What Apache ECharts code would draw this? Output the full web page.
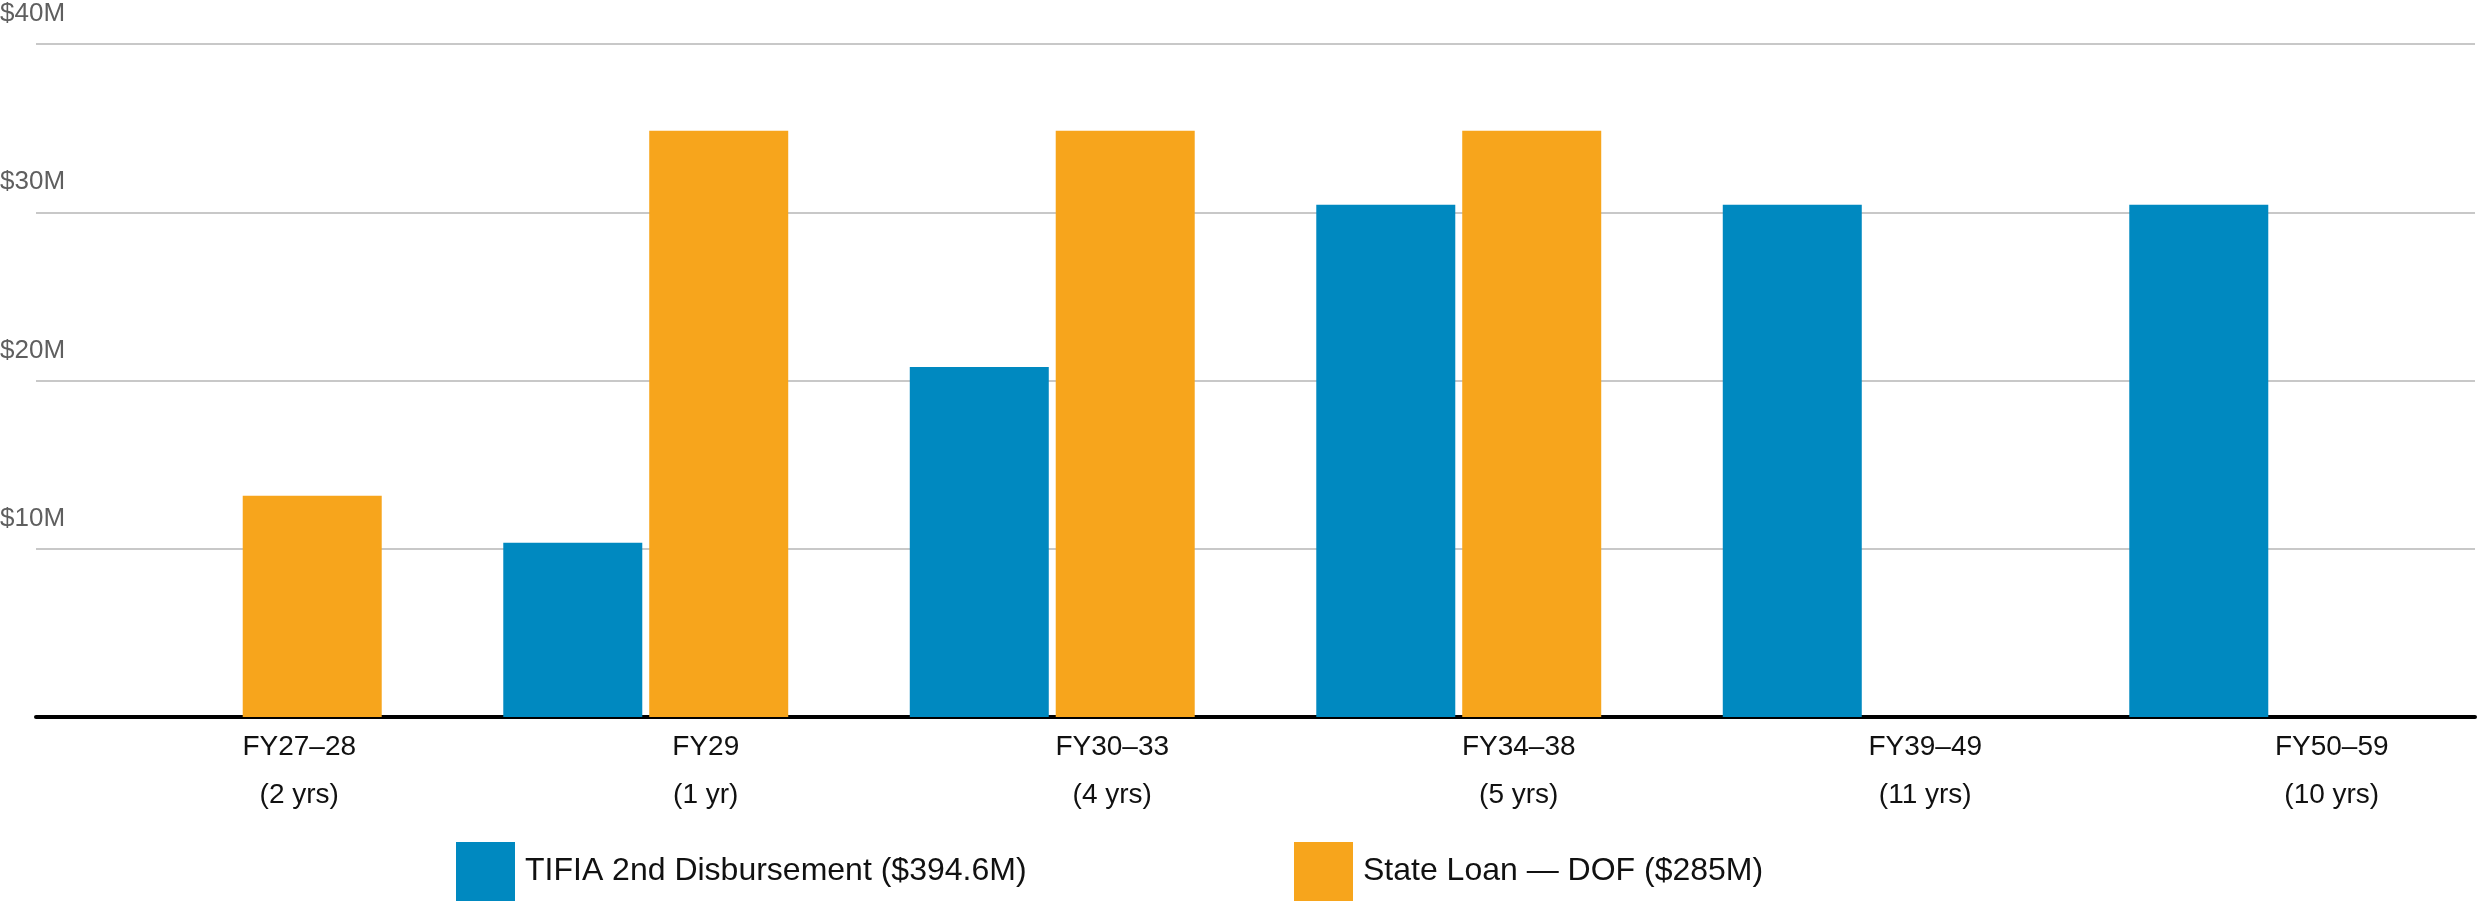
<!DOCTYPE html>
<html>
<head>
<meta charset="utf-8">
<script src="https://cdn.jsdelivr.net/npm/echarts@6/dist/echarts.min.js"></script>
<style>
  html, body { margin: 0; padding: 0; background: #fff; }
  #main { width: 2478px; height: 904px; }
</style>
</head>
<body>
<div id="main"></div>
<script>
// periods and their lengths (two-line x labels)
const periods = ['FY27–28', 'FY29', 'FY30–33', 'FY34–38', 'FY39–49', 'FY50–59']
const durations = ['(2 yrs)', '(1 yr)', '(4 yrs)', '(5 yrs)', '(11 yrs)', '(10 yrs)']

// $M per period
const tifia = [null, 10.35, 20.8, 30.45, 30.45, 30.45]
const stateLoan = [13.15, 34.85, 34.85, 34.85, null, null]

const seriesNames = ['TIFIA 2nd Disbursement ($394.6M)', 'State Loan — DOF ($285M)']
const yTicks = [0, 10, 20, 30, 40]

const FONT = '"Liberation Sans", Arial, sans-serif'

const categories = periods.map((p, i) => p + '\n' + durations[i])

const chart = echarts.init(document.getElementById('main'))

const legendCommon = {
  icon: 'rect',
  itemWidth: 59,
  itemHeight: 59,
  top: 842,
  padding: 0,
  textStyle: {
    fontFamily: FONT,
    fontSize: 32,
    color: '#111',
    padding: [0, 0, 16, 5]
  }
}

const option = {
  backgroundColor: '#fff',
  animation: false,
  legend: [
    Object.assign({ data: [seriesNames[0]], left: 456 }, legendCommon),
    Object.assign({ data: [seriesNames[1]], left: 1294 }, legendCommon)
  ],
  grid: {
    left: 36,
    right: 3,
    top: 44,
    bottom: 187,
    containLabel: false,
    outerBoundsMode: 'none'
  },
  xAxis: {
    type: 'category',
    data: categories,
    axisLine: { lineStyle: { color: '#000', width: 4 } },
    axisTick: { show: false },
    axisLabel: {
      fontFamily: FONT,
      fontSize: 28,
      color: '#111',
      lineHeight: 48,
      margin: 6,
      align: 'center',
      padding: [0, 0, 0, 120]
    }
  },
  yAxis: {
    type: 'value',
    min: yTicks[0],
    max: yTicks[yTicks.length - 1],
    interval: 10,
    axisLine: { show: false },
    axisTick: { show: false },
    splitLine: { lineStyle: { color: '#c8c8c8', width: 2 } },
    axisLabel: {
      fontFamily: FONT,
      fontSize: 26,
      color: '#5f5f5f',
      align: 'left',
      verticalAlign: 'bottom',
      margin: 36,
      padding: [0, 0, 17, 0],
      formatter: v => (v === 0 ? '' : '$' + v + 'M')
    }
  },
  series: [
    {
      name: seriesNames[0],
      type: 'bar',
      data: tifia,
      barWidth: 139,
      barGap: '5%',
      itemStyle: { color: '#0089c0' }
    },
    {
      name: seriesNames[1],
      type: 'bar',
      data: stateLoan,
      barWidth: 139,
      barGap: '5%',
      itemStyle: { color: '#f7a51c' }
    }
  ]
}

chart.setOption(option)
</script>
</body>
</html>
